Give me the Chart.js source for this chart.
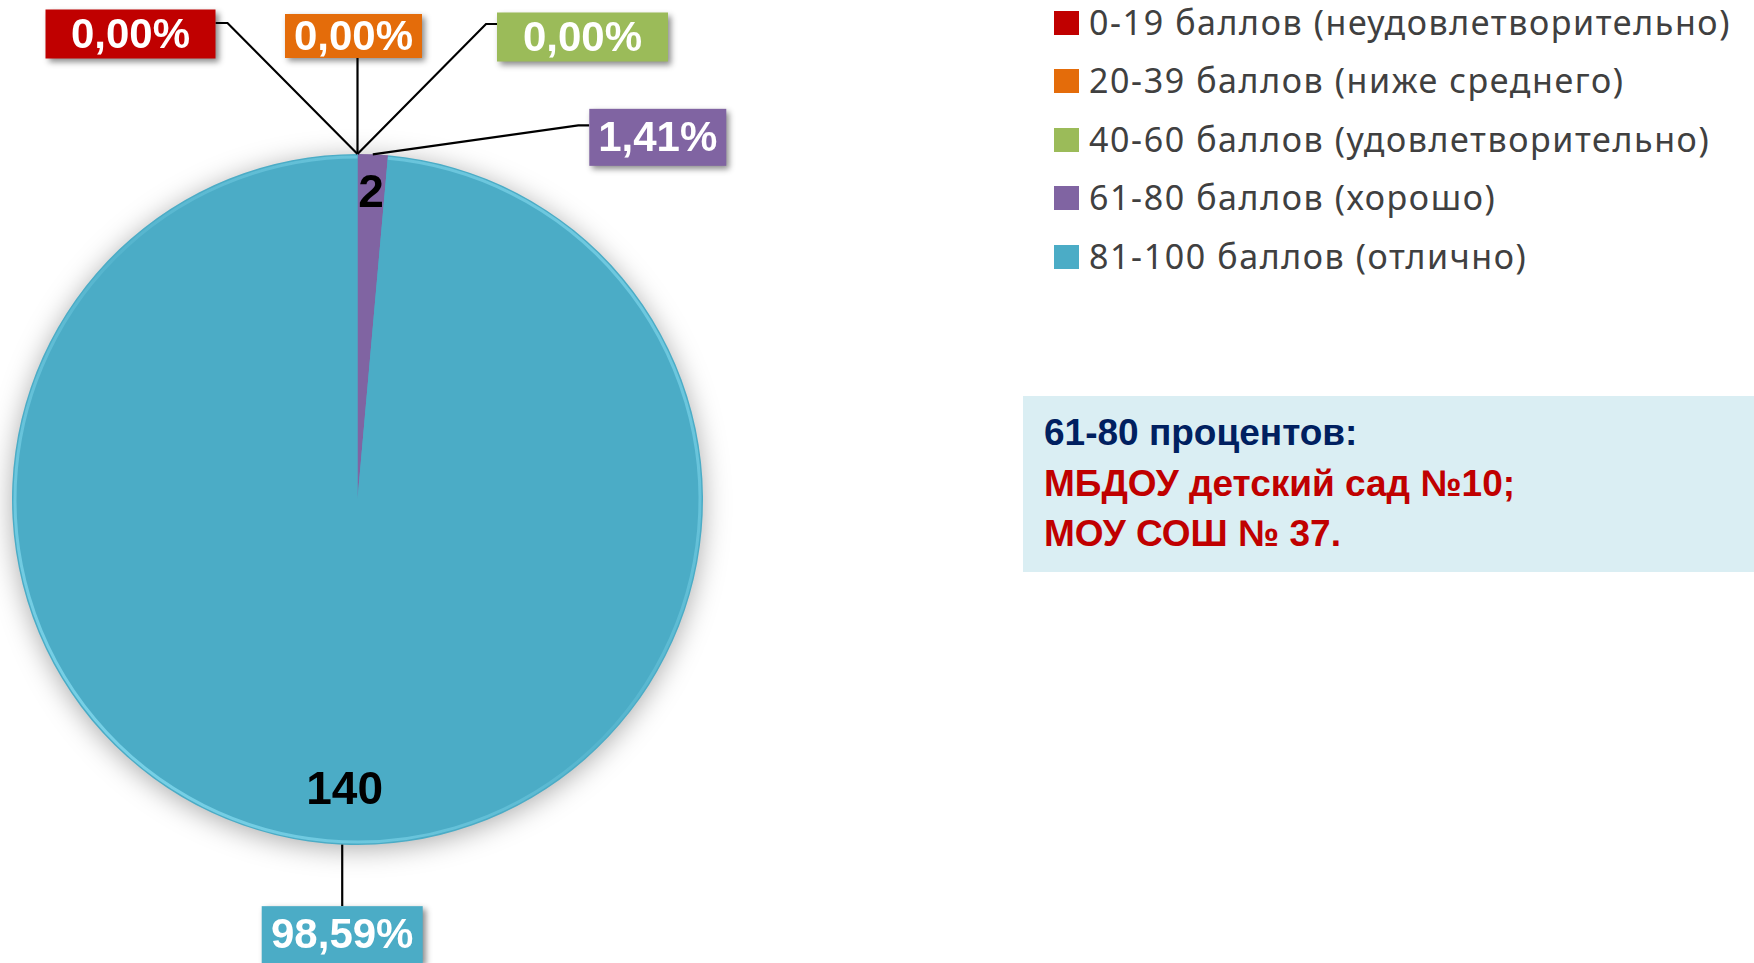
<!DOCTYPE html>
<html>
<head>
<meta charset="utf-8">
<script src="https://cdn.jsdelivr.net/npm/chart.js@4.4.0/dist/chart.umd.min.js"></script>
<style>
  html, body { margin:0; padding:0; background:#fff; }
  body { width:1754px; height:963px; position:relative; overflow:hidden; }
  #pieWrap { position:absolute; left:0; top:0; width:1000px; height:963px; }
  #legend { position:absolute; left:1054px; top:0; }
  .lg-row { position:absolute; left:0; white-space:nowrap; font-family:"Noto Sans", sans-serif;
            font-size:34px; letter-spacing:1.6px; color:#404040; line-height:58px; height:58px; }
  .lg-box { position:absolute; left:0; width:25px; height:24px; }
  .lg-text { position:absolute; left:35px; top:0; }
  #note { position:absolute; left:1023px; top:396px; width:731px; height:176px; background:#DAEEF3;
          box-sizing:border-box; padding:12px 0 0 21px; font-family:"Liberation Sans", Arial, sans-serif;
          font-weight:bold; font-size:37px; line-height:50.5px; }
  #note .l1 { color:#002060; }
  #note .l2 { color:#C00000; }
</style>
</head>
<body>
<div id="pieWrap"><canvas id="pieChart"></canvas></div>
<div id="legend"></div>
<div id="note">
  <div class="l1">61-80 процентов:</div>
  <div class="l2">МБДОУ детский сад №10;</div>
  <div class="l2">МОУ СОШ № 37.</div>
</div>

<script>
// data
const categories = [
  "0-19 баллов (неудовлетворительно)",
  "20-39 баллов (ниже среднего)",
  "40-60 баллов (удовлетворительно)",
  "61-80 баллов (хорошо)",
  "81-100 баллов (отлично)"
];
const counts = [0, 0, 0, 2, 140];
const sliceColors = ["#C00000", "#E46C0A", "#9BBB59", "#8064A2", "#4BACC6"];

// label boxes, offsets from the slice's outer point (layout only)
const labelLayout = [
  { dx:-227, dy:-120, w:170, h:49, side:"right", lineDy:-11 },
  { dx:-4,   dy:-118, w:137, h:44, side:"bottom" },
  { dx:225,  dy:-117, w:171, h:49, side:"left", lineDy:-13 },
  { dx:285,  dy:-17,  w:137, h:57, side:"left", lineDy:-12 },
  { dx:0,    dy:90,   w:161, h:57, side:"top" }
];
const countRadius = [0.88, 0.88, 0.88, 0.89, 0.84];

const total = counts.reduce((a, b) => a + b, 0);


// LEGEND
const legend = document.getElementById("legend");
categories.forEach((name, i) => {
  const row = document.createElement("div");
  row.className = "lg-row";
  row.style.top = (-7 + i * 58.4) + "px";
  row.innerHTML = '<div class="lg-box" style="top:18px;background:' + sliceColors[i] + '"></div>' +
                  '<div class="lg-text">' + name + '</div>';
  legend.appendChild(row);
});


// shadow under the pie
const pieShadow = {
  id: "pieShadow",
  beforeDatasetsDraw(chart) {
    const arc = chart.getDatasetMeta(0).data[0];
    const ctx = chart.ctx;
    ctx.save();
    ctx.shadowColor = "rgba(0,0,0,0.35)";
    ctx.shadowBlur = 28;
    ctx.shadowOffsetY = 4;
    ctx.fillStyle = "#4BACC6";
    ctx.beginPath();
    ctx.arc(arc.x, arc.y, arc.outerRadius - 1, 0, Math.PI * 2);
    ctx.fill();
    ctx.restore();
  },
  afterDatasetsDraw(chart) {
    // light rim, like the bevel in the original
    const arc = chart.getDatasetMeta(0).data[4];
    const ctx = chart.ctx;
    ctx.save();
    const g = ctx.createLinearGradient(arc.x - arc.outerRadius, arc.y + arc.outerRadius, arc.x + arc.outerRadius, arc.y - arc.outerRadius);
    g.addColorStop(0, "rgba(140,225,245,0.9)");
    g.addColorStop(0.5, "rgba(140,225,245,0.15)");
    g.addColorStop(1, "rgba(140,225,245,0.7)");
    ctx.strokeStyle = g;
    ctx.lineWidth = 3;
    ctx.beginPath();
    ctx.arc(arc.x, arc.y, arc.outerRadius - 3, arc.startAngle, arc.endAngle);
    ctx.stroke();
    ctx.restore();
  }
};


// DATA LABELS
const pieLabels = {
  id: "pieLabels",
  afterDraw(chart) {
    const ctx = chart.ctx;
    const meta = chart.getDatasetMeta(0);

    meta.data.forEach((arc, i) => {
      const mid = (arc.startAngle + arc.endAngle) / 2;
      const ax = arc.x + Math.cos(mid) * arc.outerRadius;
      const ay = arc.y + Math.sin(mid) * arc.outerRadius;
      const L = labelLayout[i];
      const bx = ax + L.dx, by = ay + L.dy;
      const left = bx - L.w / 2, top = by - L.h / 2;

      // leader line
      ctx.save();
      ctx.strokeStyle = "#000";
      ctx.lineWidth = 2.2;
      ctx.beginPath();
      ctx.moveTo(ax, ay);
      if (L.side === "right") {
        const ly = by + L.lineDy;
        ctx.lineTo(left + L.w + 12, ly);
        ctx.lineTo(left + L.w, ly);
      } else if (L.side === "left") {
        const ly = by + L.lineDy;
        ctx.lineTo(left - 11, ly);
        ctx.lineTo(left, ly);
      } else if (L.side === "bottom") {
        ctx.lineTo(ax, top + L.h);
      } else {
        ctx.lineTo(ax, top);
      }
      ctx.stroke();
      ctx.restore();

      // box
      ctx.save();
      ctx.shadowColor = "rgba(0,0,0,0.45)";
      ctx.shadowBlur = 6;
      ctx.shadowOffsetX = 3;
      ctx.shadowOffsetY = 3;
      ctx.fillStyle = sliceColors[i];
      ctx.fillRect(left, top, L.w, L.h);
      ctx.restore();

      const pct = (counts[i] / total * 100).toFixed(2).replace(".", ",") + "%";
      ctx.save();
      ctx.fillStyle = "#fff";
      ctx.font = "bold 42px 'Liberation Sans', Arial, sans-serif";
      ctx.textAlign = "center";
      ctx.textBaseline = "middle";
      ctx.fillText(pct, bx, by + 2);
      ctx.restore();

      // count inside slice
      if (counts[i] > 0) {
        const r = arc.outerRadius * countRadius[i];
        ctx.save();
        ctx.fillStyle = "#000";
        ctx.font = "bold 46px 'Liberation Sans', Arial, sans-serif";
        ctx.textAlign = "center";
        ctx.textBaseline = "middle";
        ctx.fillText(String(counts[i]), arc.x + Math.cos(mid) * r, arc.y + Math.sin(mid) * r + 2);
        ctx.restore();
      }
    });
  }
};


// PIE CHART
const pieChart = new Chart(document.getElementById("pieChart"), {

  type: "pie",

  data: {
    labels: categories,
    datasets: [{
      data: counts,
      backgroundColor: sliceColors,
      borderWidth: 0
    }]
  },

  options: {
    responsive: true,
    maintainAspectRatio: false,
    animation: false,
    layout: {
      padding: { left: 12, top: 154, right: 297, bottom: 118 }
    },
    plugins: {
      legend: { display: false },
      tooltip: { enabled: false }
    }
  },

  plugins: [pieShadow, pieLabels]

});
</script>
</body>
</html>
